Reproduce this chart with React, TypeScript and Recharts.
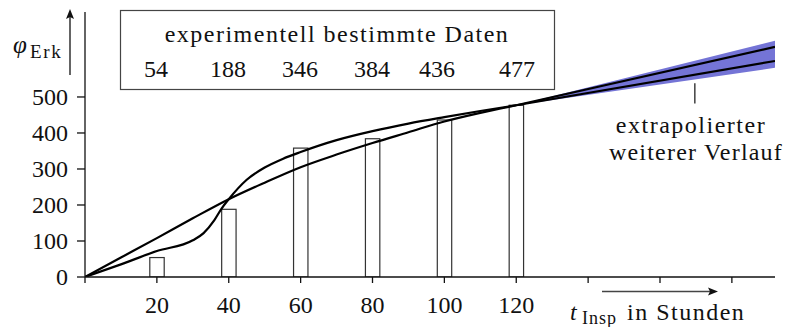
import { ComposedChart, Bar, Line, Area, XAxis, YAxis, ReferenceLine } from "recharts";

// experimentally determined bars (t in hours, height as drawn)
const barTimes = [20, 40, 60, 80, 100, 120];
const barValues = [54, 188, 358, 384, 436, 477];
const tableLabels = ["54", "188", "346", "384", "436", "477"];

// fitted curve A (nearly straight, concave)
const curveATimes = [0, 10, 20, 30, 40, 50, 60, 70, 80, 90, 100, 110, 120];
const curveAValues = [0, 54, 108, 163, 216, 262, 305, 340, 372, 402, 432, 456, 477];

// fitted curve B (S-shaped)
const curveBTimes = [0, 10, 20, 30, 33, 36, 38, 40, 45, 50, 55, 60, 70, 80, 90, 100, 110, 120];
const curveBValues = [0, 35, 72, 102, 122, 158, 190, 216, 270, 304, 328, 347, 380, 405, 426, 444, 461, 477];

// extrapolation beyond the last measurement
const extraTimes = [120, 192];
const extraUpper = [477, 639];
const extraLower = [477, 600];
const bandLow = [477, 581];
const bandHigh = [477, 656];

const xTicks = [0, 20, 40, 60, 80, 100, 120, 140, 160, 180];
const xLabelled = [20, 40, 60, 80, 100, 120];
const yTicks = [0, 100, 200, 300, 400, 500];

const allTimes = Array.from(new Set([...curveATimes, ...curveBTimes, ...barTimes, ...extraTimes])).sort(
  (a, b) => a - b
);

const data = allTimes.map((t) => {
  const row: any = { t };
  const bi = barTimes.indexOf(t);
  if (bi >= 0) row.bar = barValues[bi];
  const ai = curveATimes.indexOf(t);
  if (ai >= 0) row.a = curveAValues[ai];
  const ci = curveBTimes.indexOf(t);
  if (ci >= 0) row.b = curveBValues[ci];
  const ei = extraTimes.indexOf(t);
  if (ei >= 0) {
    row.up = extraUpper[ei];
    row.lo = extraLower[ei];
    row.band = [bandLow[ei], bandHigh[ei]];
  }
  return row;
});

const serif = "Liberation Serif";
const txt = { fill: "#111" };
const tablePosX = [156, 228, 300, 372, 437, 517];
const BAR_W = 14.4;

// bars are 4 hours wide; recharts squeezes them because of the dense curve points
const BarShape = ({ x, y, width, height }: any) => {
  if (!height) return <g />;
  const cx = x + width / 2;
  return (
    <rect x={cx - BAR_W / 2} y={y} width={BAR_W} height={height} fill="#fff" stroke="#333" strokeWidth={1.2} />
  );
};

const XTick = ({ x, y, payload }: any) =>
  xLabelled.includes(payload.value) ? (
    <text x={x} y={y + 30} textAnchor="middle" fontSize={24} fontFamily={serif} style={txt}>
      {payload.value}
    </text>
  ) : (
    <g />
  );

const YTick = ({ x, y, payload }: any) => (
  <text x={x - 9} y={y + 8} textAnchor="end" fontSize={24} fontFamily={serif} style={txt}>
    {payload.value}
  </text>
);

export default function App() {
  return (
    <div style={{ position: "absolute", left: 0, top: 0, width: 785, height: 327, background: "#fff" }}>
      <ComposedChart width={785} height={327} data={data} margin={{ top: 12, right: 10, bottom: 0, left: 0 }}>
        <XAxis
          dataKey="t"
          type="number"
          domain={[0, 192]}
          ticks={xTicks}
          height={50}
          tickSize={6}
          tickMargin={0}
          tick={XTick}
          axisLine={{ stroke: "#111", strokeWidth: 1.3 }}
          tickLine={{ stroke: "#111", strokeWidth: 1.3 }}
          allowDataOverflow
        />
        <YAxis
          type="number"
          domain={[0, 736]}
          ticks={yTicks}
          width={85}
          tickSize={8}
          tickMargin={0}
          tick={YTick}
          axisLine={{ stroke: "#111", strokeWidth: 1.3 }}
          tickLine={{ stroke: "#111", strokeWidth: 1.3 }}
          allowDataOverflow
        />
        <Bar dataKey="bar" shape={BarShape} isAnimationActive={false} />
        <Area
          dataKey="band"
          type="linear"
          fill="#7474d6"
          fillOpacity={1}
          stroke="none"
          connectNulls
          isAnimationActive={false}
        />
        <Line dataKey="a" type="monotone" stroke="#000" strokeWidth={2.2} dot={false} connectNulls isAnimationActive={false} />
        <Line dataKey="b" type="monotone" stroke="#000" strokeWidth={2.2} dot={false} connectNulls isAnimationActive={false} />
        <Line dataKey="up" type="linear" stroke="#000" strokeWidth={2.2} dot={false} connectNulls isAnimationActive={false} />
        <Line dataKey="lo" type="linear" stroke="#000" strokeWidth={2.2} dot={false} connectNulls isAnimationActive={false} />
        <ReferenceLine
          segment={[
            { x: 169.7, y: 482 },
            { x: 169.7, y: 538 },
          ]}
          stroke="#111"
          strokeWidth={1.2}
        />
      </ComposedChart>
      <svg
        width={785}
        height={327}
        fontFamily={serif}
        style={{ position: "absolute", left: 0, top: 0, pointerEvents: "none" }}
      >
        <rect x={120.5} y={10.5} width={434} height={79} fill="#fff" stroke="#444" strokeWidth={1.2} />
        <text x={337} y={42} textAnchor="middle" fontSize={24} letterSpacing={1.5} style={txt}>
          experimentell bestimmte Daten
        </text>
        {tableLabels.map((l, i) => (
          <text key={l} x={tablePosX[i]} y={77} textAnchor="middle" fontSize={24} style={txt}>
            {l}
          </text>
        ))}
        <text x={13} y={53} fontSize={25} fontStyle="italic" style={txt}>
          φ
        </text>
        <text x={30} y={58} fontSize={19} letterSpacing={1.6} style={txt}>
          Erk
        </text>
        <line x1={70} y1={75} x2={70} y2={16} stroke="#111" strokeWidth={1.3} />
        <path d="M70 9 L66 19 L70 17 L74 19 Z" fill="#111" />
        <line x1={602} y1={291.5} x2={710} y2={291.5} stroke="#444" strokeWidth={1.5} />
        <path d="M718 291.5 L708 287.5 L710 291.5 L708 295.5 Z" fill="#111" />
        <text x={570} y={320} fontSize={24} fontStyle="italic" style={txt}>
          t
        </text>
        <text x={582} y={324} fontSize={18} letterSpacing={1} style={txt}>
          Insp
        </text>
        <text x={627} y={320} fontSize={24} letterSpacing={1.5} style={txt}>
          in Stunden
        </text>
        <text x={691} y={133} textAnchor="middle" fontSize={24} letterSpacing={1.5} style={txt}>
          extrapolierter
        </text>
        <text x={696} y={160} textAnchor="middle" fontSize={24} letterSpacing={1.2} style={txt}>
          weiterer Verlauf
        </text>
      </svg>
    </div>
  );
}
